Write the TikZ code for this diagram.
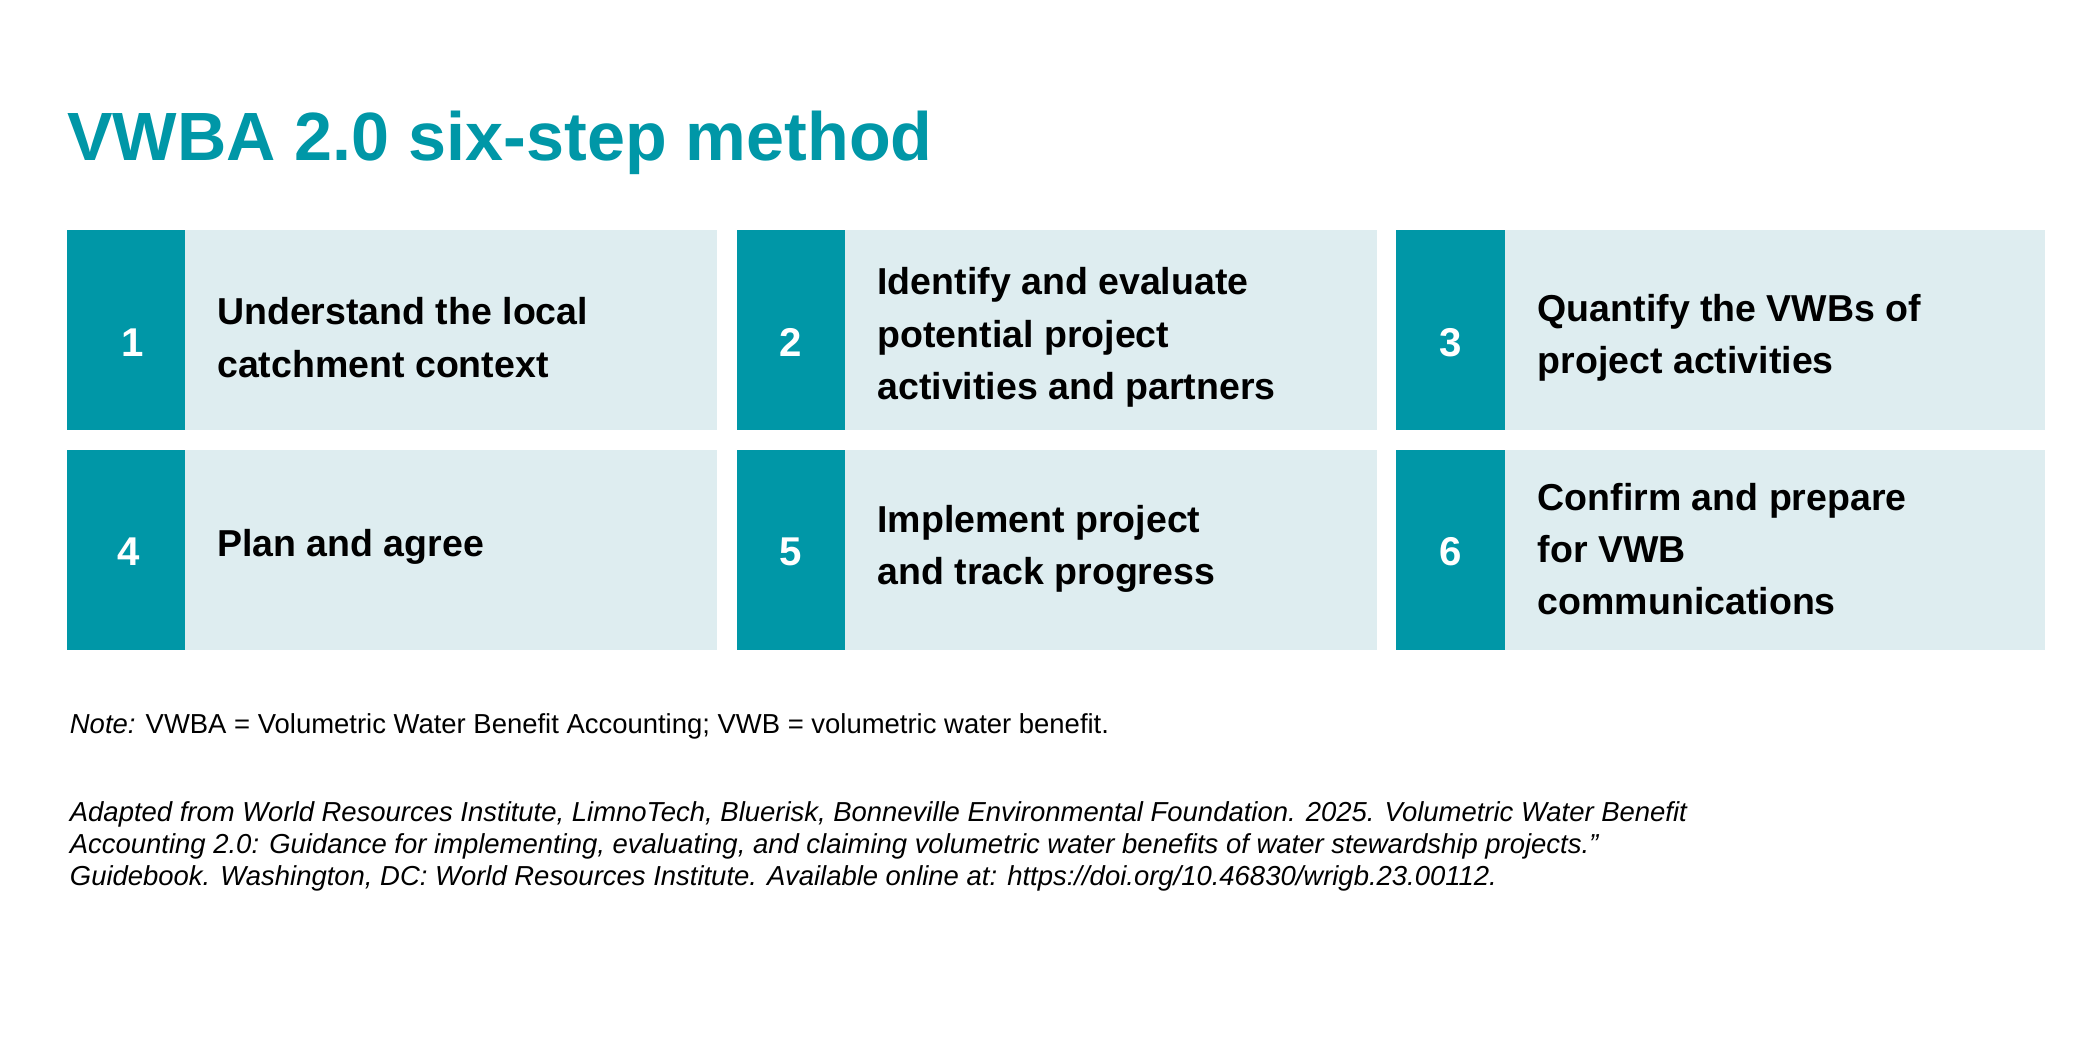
\documentclass[tikz,border=0pt]{standalone}
\usepackage{fontspec}
\setmainfont{Liberation Sans}
\definecolor{teal1}{RGB}{0,151,167}
\definecolor{light1}{RGB}{222,237,240}
\begin{document}
\begin{tikzpicture}[x=1pt,y=-1pt,
  numbox/.style={fill=teal1,draw=none},
  txtbox/.style={fill=light1,draw=none},
  num/.style={text=white,font=\fontsize{30}{36}\selectfont\bfseries},
  steptxt/.style={anchor=west,align=left,text=black,font=\fontsize{28}{39}\selectfont\bfseries,inner sep=0pt},
  note/.style={anchor=west,align=left,inner sep=0pt,font=\fontsize{20.5}{24}\selectfont}]
\useasboundingbox (0,0) rectangle (1568,784);
\node[anchor=base west,inner sep=0pt,text=teal1,font=\fontsize{51}{60}\selectfont\bfseries] (title) at (50,120) {VWBA 2.0 six-step method};
% row 1
\fill[txtbox] (138,172) rectangle (535,321); \fill[numbox] (50,172) rectangle (138,321);
\node[num] (n1) at (99,256) {1};
\node[steptxt] (t1) at (162,252) {Understand the local\\catchment context};
\fill[txtbox] (631,172) rectangle (1028,321); \fill[numbox] (550,172) rectangle (631,321);
\node[num] (n2) at (590,256) {2};
\node[steptxt] (t2) at (655,252) {Identify and evaluate\\potential project\\activities and partners};
\fill[txtbox] (1124,172) rectangle (1527,321); \fill[numbox] (1042,172) rectangle (1124,321);
\node[num] (n3) at (1083,256) {3};
\node[steptxt] (t3) at (1148,252) {Quantify the VWBs of\\project activities};
% row 2
\fill[txtbox] (138,336) rectangle (535,485); \fill[numbox] (50,336) rectangle (138,485);
\node[num] (n4) at (96,412) {4};
\node[steptxt] (t4) at (162,408) {Plan and agree};
\fill[txtbox] (631,336) rectangle (1028,485); \fill[numbox] (550,336) rectangle (631,485);
\node[num] (n5) at (590,412) {5};
\node[steptxt] (t5) at (655,410) {Implement project\\and track progress};
\fill[txtbox] (1124,336) rectangle (1527,485); \fill[numbox] (1042,336) rectangle (1124,485);
\node[num] (n6) at (1083,412) {6};
\node[steptxt] (t6) at (1148,410) {Confirm and prepare\\for VWB\\communications};
% notes
\node[note] (nt) at (52,542) {\textit{Note:} VWBA = Volumetric Water Benefit Accounting; VWB = volumetric water benefit.};
\node[note,font=\fontsize{20.5}{24}\selectfont\itshape] (src) at (52,632) {Adapted from World Resources Institute, LimnoTech, Bluerisk, Bonneville Environmental Foundation. 2025. Volumetric Water Benefit\\Accounting 2.0: Guidance for implementing, evaluating, and claiming volumetric water benefits of water stewardship projects.''\\Guidebook. Washington, DC: World Resources Institute. Available online at: https://doi.org/10.46830/wrigb.23.00112.};
\end{tikzpicture}
\end{document}
